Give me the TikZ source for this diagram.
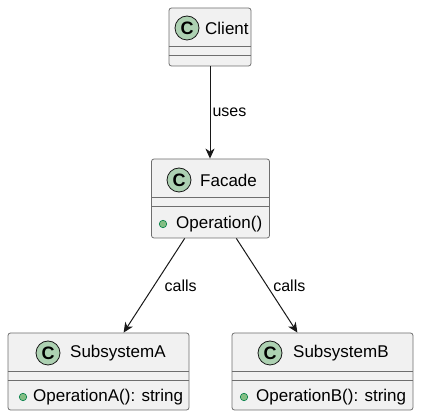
\documentclass[tikz,border=0pt]{standalone}
\usepackage{fontspec}
\setmainfont{Liberation Sans}
\usetikzlibrary{arrows.meta}
\definecolor{boxfill}{HTML}{F1F1F1}
\definecolor{boxline}{HTML}{6E6E6E}
\definecolor{spotfill}{HTML}{ADD1B2}
\definecolor{dotfill}{HTML}{84BE84}
\definecolor{dotline}{HTML}{038048}
\definecolor{ink}{HTML}{181818}

\begin{document}
\begin{tikzpicture}[x=1pt,y=-1pt,
	classbox/.style={draw=boxline, fill=boxfill, rounded corners=2.5pt, line width=0.8pt, inner sep=0pt},
	spot/.style={circle, draw=ink, fill=spotfill, line width=0.8pt, minimum size=24pt, inner sep=0pt, font=\fontsize{18}{18}\selectfont\bfseries},
	classname/.style={anchor=west, inner sep=0pt, font=\fontsize{17}{20}\selectfont},
	method/.style={anchor=west, inner sep=0pt, font=\fontsize{17}{20}\selectfont},
	pubdot/.style={circle, draw=dotline, fill=dotfill, line width=0.6pt, minimum size=7.5pt, inner sep=0pt},
	uses/.style={draw=ink, line width=1pt, -{Stealth[length=10pt,width=9pt,inset=3pt]}},
	tag/.style={inner sep=0pt, font=\fontsize{16}{19}\selectfont}]
	\useasboundingbox (0,0) rectangle (421,419);

	% class boxes
	\node[classbox, minimum width=82pt, minimum height=58pt] (client) at (210,37) {};
	\node[classbox, minimum width=118pt, minimum height=79pt] (facade) at (210.5,198.5) {};
	\node[classbox, minimum width=181pt, minimum height=77pt] (suba) at (98.5,371.5) {};
	\node[classbox, minimum width=181pt, minimum height=77pt] (subb) at (322.5,371.5) {};

	% field and method separators
	\foreach \c in {client,facade,suba,subb}{
		\draw[boxline, line width=0.8pt] ([yshift=-38.5pt]\c.north west) -- ([yshift=-38.5pt]\c.north east);
		\draw[boxline, line width=0.8pt] ([yshift=-47.5pt]\c.north west) -- ([yshift=-47.5pt]\c.north east);
	}

	% headers
	\node[spot] (clientspot) at (187,28) {C};
	\node[classname] (clientname) at (205,28) {Client};
	\node[spot] (facadespot) at (179,180) {C};
	\node[classname] (facadename) at (200,180) {Facade};
	\node[spot] (subaspot) at (48,353) {C};
	\node[classname] (subaname) at (70,353) {SubsystemA};
	\node[spot] (subbspot) at (270,353) {C};
	\node[classname] (subbname) at (293,353) {SubsystemB};

	% methods
	\node[pubdot] (facadedot) at (163,224) {};
	\node[method] (facadeop) at (176,224) {Operation()};
	\node[pubdot] (subadot) at (23,397) {};
	\node[method] (subaop) at (33,397) {OperationA(): string};
	\node[pubdot] (subbdot) at (244,397) {};
	\node[method] (subbop) at (256,397) {OperationB(): string};

	% relations
	\draw[uses] (client.south) -- node[tag, anchor=west, xshift=2pt] (usestag) {uses} (client.south |- facade.north);
	\draw[uses] (facade) -- node[tag, anchor=west, xshift=10pt] (callsa) {calls} (suba);
	\draw[uses] (facade) -- node[tag, anchor=west, xshift=6pt] (callsb) {calls} (subb);
\end{tikzpicture}
\end{document}
